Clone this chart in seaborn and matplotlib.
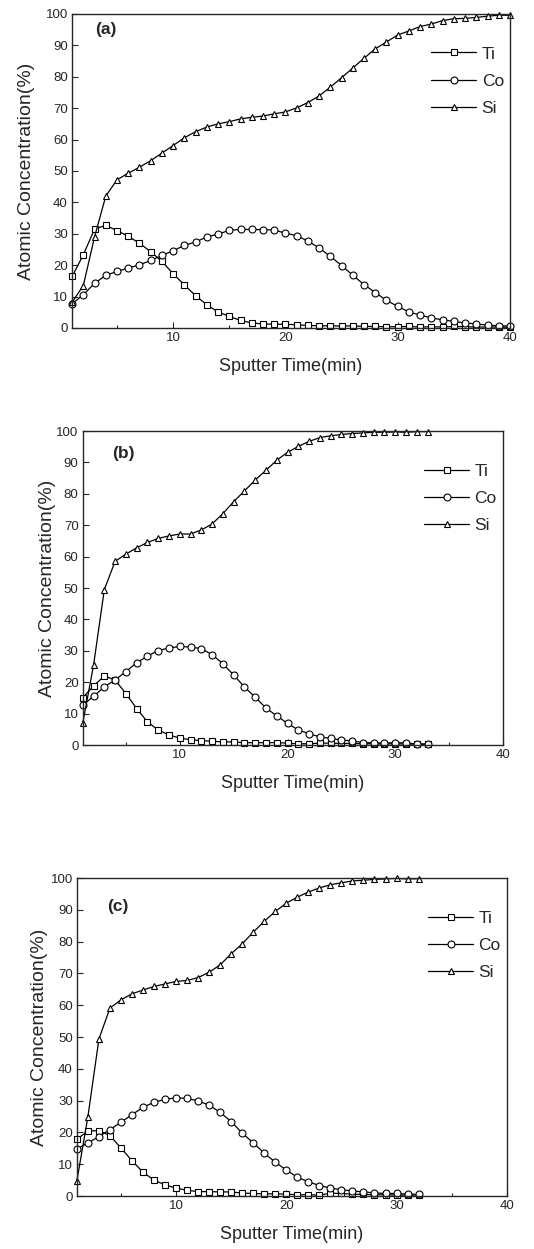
import numpy as np
import pandas as pd
import matplotlib
matplotlib.use("Agg")
import matplotlib.pyplot as plt
from matplotlib.ticker import MultipleLocator
import seaborn as sns

sns.set_style("ticks")
plt.rcParams['font.family'] = ['Liberation Sans', 'DejaVu Sans']

# --- data (sputter time in min, concentration in %) ---
time_a = list(range(1, 41))
ti_a = [16.4, 23.3, 31.5, 32.7, 31.0, 29.2, 27.0, 24.3, 21.2, 17.3,
        13.7, 10.3, 7.4, 5.1, 3.7, 2.4, 1.6, 1.3, 1.2, 1.2,
        1.0, 0.8, 0.7, 0.7, 0.6, 0.7, 0.5, 0.5, 0.4, 0.4,
        0.5, 0.3, 0.4, 0.3, 0.5, 0.4, 0.3, 0.3, 0.3, 0.2]
co_a = [7.7, 10.6, 14.2, 16.8, 18.0, 19.1, 20.1, 21.5, 23.1, 24.6,
        26.3, 27.4, 29.0, 29.9, 31.1, 31.4, 31.4, 31.3, 31.2, 30.2,
        29.4, 27.7, 25.5, 22.8, 19.9, 16.8, 13.8, 11.3, 8.8, 6.9,
        5.1, 4.1, 3.2, 2.6, 2.1, 1.6, 1.3, 0.9, 0.7, 0.6]
si_a = [8.2, 13.5, 29.0, 42.0, 47.2, 49.3, 51.2, 53.3, 55.7, 58.1,
        60.6, 62.5, 64.0, 65.0, 65.7, 66.6, 67.1, 67.5, 68.2, 68.8,
        70.1, 71.8, 73.9, 76.7, 79.7, 82.8, 85.9, 88.9, 91.1, 93.3,
        94.6, 96.0, 96.8, 97.9, 98.5, 98.6, 98.9, 99.3, 99.6, 99.6]

time_b = list(range(1, 34))
ti_b = [15.1, 18.8, 22.0, 20.7, 16.4, 11.6, 7.4, 4.8, 3.2, 2.2,
        1.7, 1.4, 1.2, 1.0, 1.0, 0.7, 0.8, 0.7, 0.8, 0.6,
        0.4, 0.4, 0.6, 0.6, 0.5, 0.5, 0.4, 0.4, 0.3, 0.4,
        0.3, 0.3, 0.2]
co_b = [12.7, 15.5, 18.5, 20.7, 23.4, 26.2, 28.3, 30.1, 30.9, 31.4,
        31.2, 30.7, 28.8, 25.9, 22.3, 18.5, 15.2, 11.8, 9.3, 6.9,
        4.8, 3.6, 2.6, 2.1, 1.6, 1.3, 0.8, 0.7, 0.6, 0.8,
        0.6, 0.4, 0.3]
si_b = [7.0, 25.4, 49.5, 58.5, 60.8, 62.8, 64.5, 65.8, 66.6, 67.2,
        67.2, 68.5, 70.4, 73.7, 77.5, 80.9, 84.4, 87.5, 90.7, 93.2,
        95.1, 96.7, 97.9, 98.5, 98.9, 99.2, 99.4, 99.6, 99.6, 99.7,
        99.6, 99.8, 99.8]

time_c = list(range(1, 33))
ti_c = [17.9, 20.4, 20.6, 19.0, 15.1, 11.1, 7.5, 5.0, 3.5, 2.5,
        1.8, 1.4, 1.4, 1.3, 1.3, 0.9, 0.8, 0.7, 0.7, 0.6,
        0.4, 0.4, 0.3, 0.9, 0.8, 0.6, 0.5, 0.4, 0.4, 0.3,
        0.3, 0.3]
co_c = [14.8, 16.7, 18.7, 20.9, 23.2, 25.6, 27.9, 29.5, 30.4, 30.9,
        30.7, 29.9, 28.6, 26.3, 23.4, 19.8, 16.7, 13.5, 10.6, 8.2,
        5.9, 4.5, 3.3, 2.5, 2.0, 1.6, 1.3, 1.0, 0.8, 0.8,
        0.6, 0.5]
si_c = [4.8, 25.0, 49.4, 59.1, 61.7, 63.6, 64.8, 65.9, 66.7, 67.5,
        67.8, 68.7, 70.4, 72.7, 76.2, 79.3, 83.0, 86.4, 89.5, 92.1,
        94.0, 95.6, 96.9, 97.9, 98.5, 99.1, 99.3, 99.6, 99.7, 99.9,
        99.7, 99.8]

elements = ['Ti', 'Co', 'Si']
marker_of = {'Ti': 's', 'Co': 'o', 'Si': '^'}

panels = [
    ('(a)', time_a, [ti_a, co_a, si_a], [0.135, 0.7374, 0.820, 0.2514], (4.0, 95), 20),
    ('(b)', time_b, [ti_b, co_b, si_b], [0.155, 0.4035, 0.787, 0.2514], (4.8, 93), 12),
    ('(c)', time_c, [ti_c, co_c, si_c], [0.144, 0.0424, 0.805, 0.2546], (4.7, 91), 14),
]

fig = plt.figure(figsize=(5.34, 12.49), dpi=100)

for tag, t, series, rect, tag_pos, ypad in panels:
    ax = fig.add_axes(rect)
    for name, vals in zip(elements, series):
        sns.lineplot(x=t, y=vals, ax=ax, color='black', linewidth=0.9,
                     marker=marker_of[name], markersize=5,
                     markerfacecolor='white', markeredgecolor='black',
                     markeredgewidth=0.8, label=name, clip_on=False)
    ax.set_xlim(1, 40)
    ax.set_ylim(0, 100)
    ax.xaxis.set_minor_locator(MultipleLocator(5))
    ax.yaxis.set_major_locator(MultipleLocator(10))
    ax.set_xticks([10, 20, 30, 40])
    ax.tick_params(direction='in', length=4, width=0.8, labelsize=9.5, pad=3)
    ax.tick_params(which='minor', direction='in', length=2.5, width=0.8)
    for s in ax.spines.values():
        s.set_linewidth(1.0)
        s.set_visible(True)
    ax.set_xlabel('Sputter Time(min)', fontsize=13, labelpad=10)
    ax.set_ylabel('Atomic Concentration(%)', fontsize=14, labelpad=ypad - 12)
    ax.text(tag_pos[0], tag_pos[1], tag, fontsize=12.5, fontweight='bold',
            ha='center', va='center')
    ax.legend(loc='upper right', bbox_to_anchor=(1.01, 0.93), frameon=False,
              fontsize=12.5, handlelength=2.6, handletextpad=0.3,
              labelspacing=0.7, borderaxespad=0.2)

fig.savefig('out.png', dpi=100)
